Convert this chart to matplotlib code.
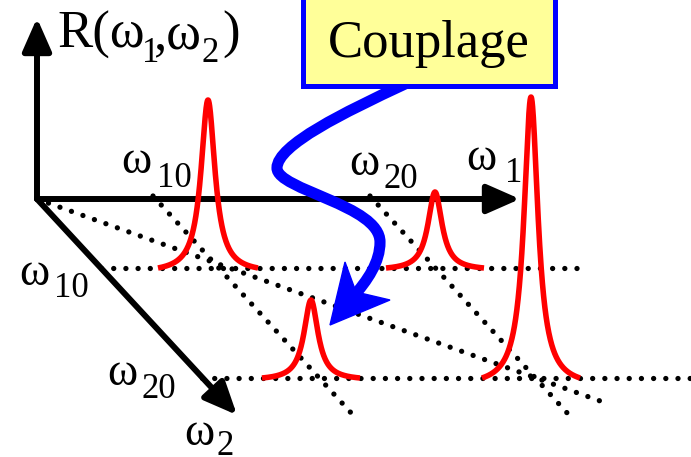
import os

import numpy as np
import matplotlib
matplotlib.use("Agg")
import matplotlib.pyplot as plt
from matplotlib.font_manager import FontProperties
from matplotlib.patches import Rectangle, Polygon, PathPatch
from matplotlib.path import Path

SERIF_FILE = '/usr/share/fonts/truetype/liberation/LiberationSerif-Regular.ttf'
if os.path.exists(SERIF_FILE):
    serif = FontProperties(fname=SERIF_FILE)
else:
    serif = FontProperties(family=['Liberation Serif', 'DejaVu Serif'])

W, H = 691, 457

# axes of the sketch (pixel space, y down)
origin = (37, 199)
axis_tips = [(37, 18), (520, 199), (237, 415)]

# dotted guide lines: (x0, y0, x1, y1)
guides = [
    (101, 268, 583, 268),   # omega2 = omega10
    (202, 378, 691, 378),   # omega2 = omega20
    (37, 199, 603, 402),    # diagonal from origin
    (153, 196, 353, 415),   # omega1 = omega10
    (370, 196, 569, 415),   # omega1 = omega20
]

# peaks: centre, base level, height, half extent
peak_x = [208, 435, 311, 531]
peak_base = [268, 268, 378, 378]
peak_height = [168, 76, 78, 281]
peak_half = [50, 49, 49, 49]
gamma = 8.5

# blue "couplage" arrow
couplage_verts = [(405, 84), (345, 112), (277, 145), (277, 168),
                  (277, 190), (380, 205), (380, 242),
                  (380, 262), (368, 280), (352, 298)]
arrow_head = [(330, 325), (345, 262), (356, 292), (390, 300)]

box = (303, -20, 555, 86)

# labels: text, x, baseline y, size
labels = [
    ("R(ω", 57, 48, 38), ("1", 142, 62, 25), (",ω", 154, 48, 38),
    ("2", 202, 62, 25), (")", 222, 48, 38),
    ("ω", 121, 173, 33), ("10", 157, 187, 25),
    ("ω", 349, 175, 33), ("20", 384, 188, 25),
    ("ω", 466, 170, 33), ("1", 505, 182, 25),
    ("ω", 19, 285, 33), ("10", 54, 297, 25),
    ("ω", 107, 385, 33), ("20", 142, 398, 25),
    ("ω", 184, 445, 33), ("2", 217, 455, 25),
]

fig = plt.figure(figsize=(W / 100, H / 100), dpi=100)
ax = fig.add_axes([0, 0, 1, 1])
ax.set_xlim(0, W)
ax.set_ylim(H, 0)
ax.axis('off')

for x0, y0, x1, y1 in guides:
    ax.plot([x0, x1], [y0, y1], color='black', lw=3.8,
            linestyle=(0, (0.01, 2.3)), dash_capstyle='round', zorder=1)

for tip in axis_tips:
    ax.annotate('', xy=tip, xytext=origin,
                arrowprops=dict(arrowstyle='-|>,head_length=0.5,head_width=0.22',
                                lw=4.3, color='black', shrinkA=0, shrinkB=0,
                                mutation_scale=40), zorder=2)

for xc, yb, h, hw in zip(peak_x, peak_base, peak_height, peak_half):
    x = np.linspace(-hw, hw, 400)
    lor = 1 / (1 + (x / gamma) ** 2)
    edge = 1 / (1 + (hw / gamma) ** 2)
    y = yb - h * (lor - edge) / (1 - edge)
    ax.plot(xc + x, y, color='red', lw=4, solid_capstyle='butt', zorder=3)

codes = [Path.MOVETO] + [Path.CURVE4] * (len(couplage_verts) - 1)
ax.add_patch(PathPatch(Path(couplage_verts, codes), fill=False,
                       edgecolor='#0000ff', lw=8, capstyle='butt', zorder=4))
ax.add_patch(Polygon(arrow_head, closed=True, facecolor='#0000ff',
                     edgecolor='#0000ff', lw=1, zorder=4))

bx0, by0, bx1, by1 = box
ax.add_patch(Rectangle((bx0, by0), bx1 - bx0, by1 - by0, facecolor='#ffff99',
                       edgecolor='#0000ff', lw=3.6, zorder=5))
ax.text((bx0 + bx1) / 2, 57, "Couplage", fontproperties=serif, fontsize=38,
        ha='center', va='baseline', zorder=6)

for txt, x, y, size in labels:
    ax.text(x, y, txt, fontproperties=serif, fontsize=size, ha='left',
            va='baseline', zorder=6)

fig.savefig('out.png', dpi=100)
